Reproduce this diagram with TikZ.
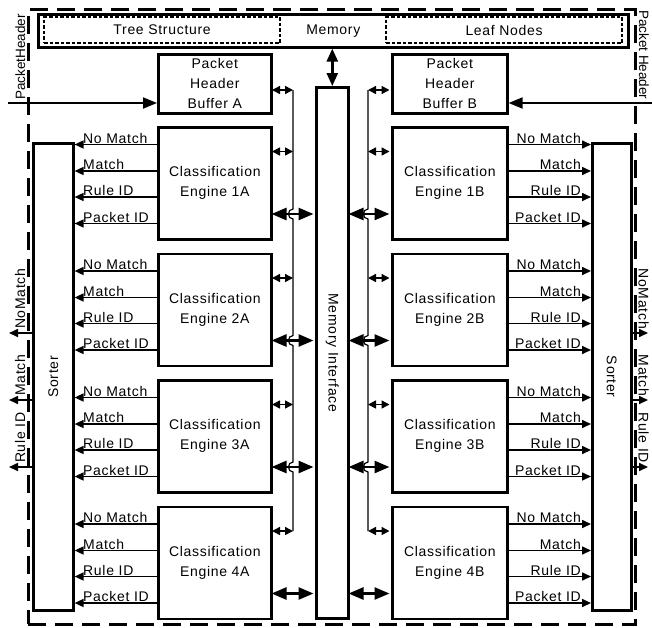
\documentclass[tikz,border=0pt]{standalone}
\usepackage{fontspec}
\setmainfont[LetterSpace=5]{Liberation Sans}
\newfontfamily\plainfont{Liberation Sans}
\usetikzlibrary{arrows.meta,calc}
\begin{document}
\begin{tikzpicture}[x=1pt,y=-1pt,
  font=\fontsize{14}{20}\selectfont,
  box/.style={draw, line width=2.6pt, inner sep=0pt, align=center, anchor=north west},
  dotbox/.style={draw, line width=2.2pt, dash pattern=on 3.5pt off 2pt, inner sep=0pt, anchor=north west},
  frame/.style={draw, line width=2.6pt, dash pattern=on 18pt off 9pt, inner sep=0pt, anchor=north west},
  bus/.style={line width=1.2pt},
  outarr/.style={line width=1.6pt, -{Triangle[length=9pt,width=8pt]}},
  smallarr/.style={line width=1.5pt, {Triangle[length=8pt,width=8pt]}-{Triangle[length=8pt,width=8pt]}},
  bigarr/.style={line width=2.6pt, {Triangle[length=15pt,width=12pt]}-{Triangle[length=15pt,width=12pt]}},
  memarr/.style={line width=2.6pt, {Triangle[length=13pt,width=11pt]}-{Triangle[length=13pt,width=11pt]}},
  inarr/.style={line width=2pt, -{Triangle[length=14pt,width=11pt]}},
  lbl/.style={inner sep=0pt},
]
\useasboundingbox (0,0) rectangle (652,627);

% outer dashed frame
\node[frame, minimum width=607pt, minimum height=615pt] (frame) at (27,8) {};

% memory
\node[box, minimum width=590pt, minimum height=33pt] (mem) at (37,13) {Memory};
\node[dotbox, minimum width=236pt, minimum height=26pt] (tree) at (43,16) {Tree Structure};
\node[dotbox, minimum width=236pt, minimum height=26pt] (leaf) at (385,16) {Leaf Nodes};

% buffers
\node[box, minimum width=113pt, minimum height=59pt] (bufA) at (157,53) {Packet\\Header\\Buffer A};
\node[box, minimum width=115pt, minimum height=59pt] (bufB) at (391,53) {Packet\\Header\\Buffer B};

% memory interface
\node[box, minimum width=32pt, minimum height=531pt] (mi) at (315,86) {};
\node[rotate=-90] (mitext) at (mi.center) {Memory Interface};
\draw[memarr] (mi.north |- mem.south) -- (mi.north);

% sorters
\node[box, minimum width=40pt, minimum height=467pt] (sortL) at (32,142) {};
\node[rotate=90] (sortLtext) at (sortL.center) {Sorter};
\node[box, minimum width=39pt, minimum height=467pt] (sortR) at (591,142) {};
\node[rotate=-90] (sortRtext) at (sortR.center) {Sorter};

% packet header inputs
\coordinate (inL) at (8,103);
\coordinate (inR) at (652,103);
\draw[inarr] (inL) -- (bufA.west |- inL);
\draw[inarr] (inR) -- (bufB.east |- inR);
\node[lbl, rotate=90, anchor=base west, font=\plainfont\fontsize{13.5}{15}\selectfont] (phL) at (25,100) {PacketHeader};
\node[lbl, rotate=-90, anchor=base west, font=\plainfont\fontsize{13.5}{15}\selectfont] (phR) at (639,10) {Packet Header};

% engines
\foreach \i/\t in {1/126,2/252.5,3/379,4/505.5}{
  \node[box, minimum width=113pt, minimum height=112pt] (eA\i) at (157,\t) {Classification\\Engine \i A};
  \node[box, minimum width=115pt, minimum height=112pt] (eB\i) at (391,\t) {Classification\\Engine \i B};
  \foreach \lab/\dy in {No Match/18.5, Match/45, Rule ID/71, Packet ID/97.5}{
    \draw[outarr] (eA\i.west |- 0,\t+\dy) -- (sortL.east |- 0,\t+\dy);
    \node[lbl, anchor=base west] at (83,\t+\dy-1.5) {\lab};
    \draw[outarr] (eB\i.east |- 0,\t+\dy) -- (sortR.west |- 0,\t+\dy);
    \node[lbl, anchor=base east] at (581,\t+\dy-1.5) {\lab};
  }
  \draw[smallarr] (272,\t+25.5) -- (293,\t+25.5);
  \draw[smallarr] (368,\t+25.5) -- (389.5,\t+25.5);
  \draw[bigarr] (271.5,\t+88) -- (313.5,\t+88);
  \draw[bigarr] (348.5,\t+88) -- (389.5,\t+88);
}

% buses
\draw[smallarr] (272,90) -- (293,90);
\draw[smallarr] (368,90) -- (389.5,90);
\draw[bus] (293,90) \foreach \t in {126,252.5,379}{ -- (293,\t+83) .. controls +(-6,0) and +(-6,0) .. (293,\t+93)} -- (293,531);
\draw[bus] (368,90) \foreach \t in {126,252.5,379}{ -- (368,\t+83) .. controls +(-6,0) and +(-6,0) .. (368,\t+93)} -- (368,531);

% sorter outputs
\foreach \lab/\y in {NoMatch/333, Match/400, Rule ID/467}{
  \draw[outarr] (sortL.west |- 0,\y) -- (9,\y);
  \node[lbl, rotate=90, anchor=base west] at (25,\y-4) {\lab};
  \draw[outarr] (sortR.east |- 0,\y) -- (648,\y);
  \node[lbl, rotate=-90, anchor=base east] at (638.5,\y-4) {\lab};
}
\end{tikzpicture}
\end{document}
